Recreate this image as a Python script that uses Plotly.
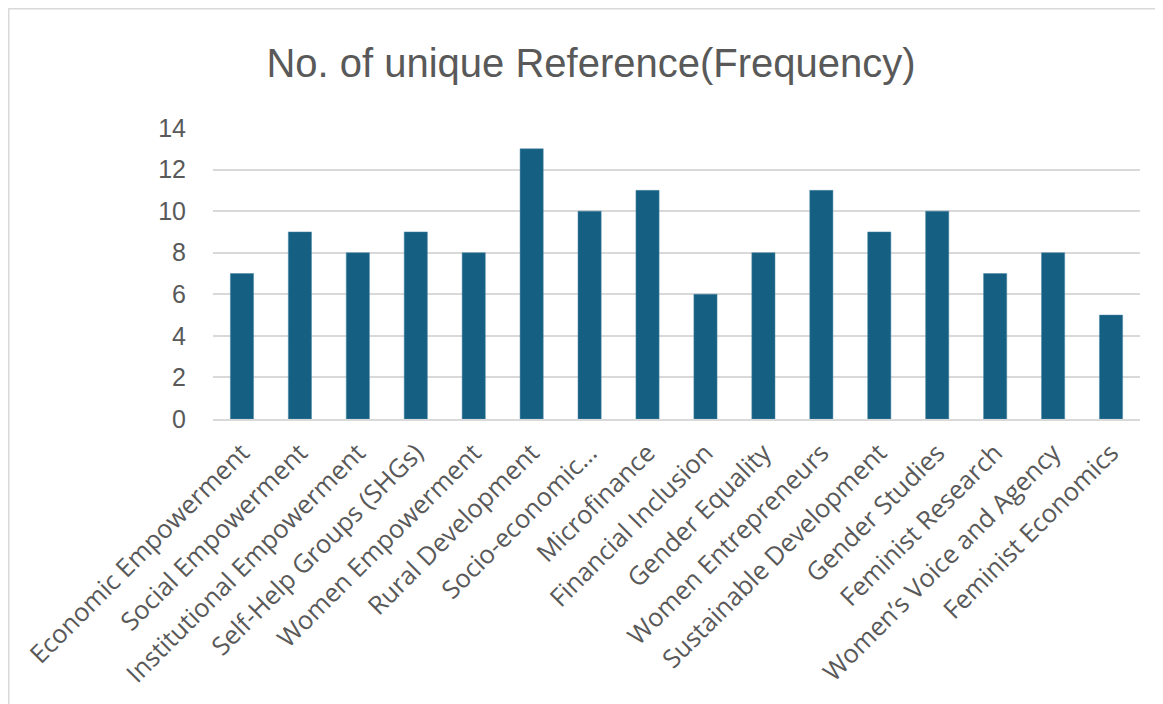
import plotly.graph_objects as go

categories = [
    "Economic Empowerment", "Social Empowerment", "Institutional Empowerment",
    "Self-Help Groups (SHGs)", "Women Empowerment", "Rural Development",
    "Socio-economic…", "Microfinance", "Financial Inclusion", "Gender Equality",
    "Women Entrepreneurs", "Sustainable Development", "Gender Studies",
    "Feminist Research", "Women’s Voice and Agency", "Feminist Economics",
]
values = [7, 9, 8, 9, 8, 13, 10, 11, 6, 8, 11, 9, 10, 7, 8, 5]
y_ticks = [0, 2, 4, 6, 8, 10, 12, 14]

# page has an 8px body margin; figure sized to fit the window
W, H = 1155, 696
L, R, T, B = 205, 23, 120, 285
pw, ph = W - L - R, H - T - B

fig = go.Figure(go.Bar(
    x=categories, y=values,
    marker=dict(color="#156082", line=dict(color="#4a86a6", width=0.5)),
    width=0.4,
))

fig.update_layout(
    width=W, height=H,
    margin=dict(l=L, r=R, t=T, b=B, autoexpand=False),
    paper_bgcolor="white", plot_bgcolor="white",
    showlegend=False,
    title=dict(text="No. of unique Reference(Frequency)", x=(591 - 8) / W, xanchor="center",
               y=1 - (63 - 8) / H, yanchor="middle",
               font=dict(family="Liberation Sans", size=40, color="#595959")),
    xaxis=dict(tickangle=-45, tickfont=dict(family="Open Sans", size=25.5, color="#595959"),
               showgrid=False, showline=True, linecolor="#d9d9d9", linewidth=1.5,
               ticks="", ticklabelstandoff=7),
    yaxis=dict(range=[0, 14], tickvals=y_ticks, tickfont=dict(family="Liberation Sans", size=25, color="#595959"),
               showgrid=True, gridcolor="#d9d9d9", gridwidth=1.5, zeroline=False,
               showline=False, ticks="", ticklabelstandoff=26),
    shapes=[dict(type="rect", xref="paper", yref="paper",
                 x0=(0.75 - L) / pw, x1=(W + 10 - L) / pw,
                 y0=-(H + 10 - T - ph) / ph, y1=1 + (T - 0.75) / ph,
                 line=dict(color="#d9d9d9", width=1.5), fillcolor="rgba(0,0,0,0)", layer="below")],
)

fig.write_html("out.html")
